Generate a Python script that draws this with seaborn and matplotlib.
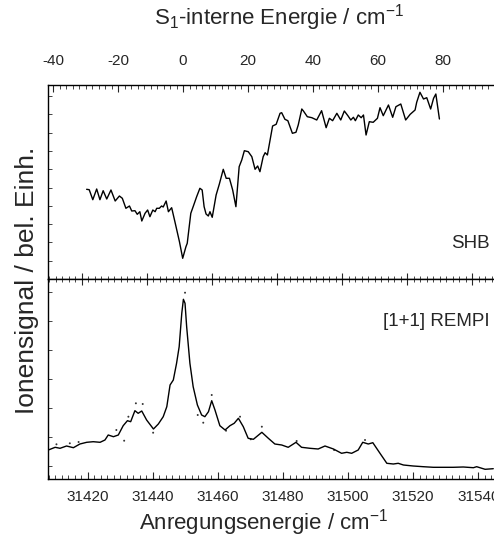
import numpy as np
import pandas as pd
import matplotlib
matplotlib.use("Agg")
import matplotlib.pyplot as plt
from matplotlib.ticker import MultipleLocator, FixedLocator, NullFormatter
import seaborn as sns

# --- DATA ---
# SHB spectrum: S1-internal energy (cm^-1) vs. ion signal (arb. units)
shb_energy = [-29.7, -28.9, -27.8, -26.6, -25.6, -24.6, -23.5, -22.2, -20.9, -19.6,
              -18.7, -17.6, -16.5, -15.8, -14.8, -14.1, -13.3, -12.7, -11.7, -10.9,
              -10.2, -9.3, -8.6, -8.1, -7.3, -6.6, -6.1, -5.2, -4.5, -3.5,
              -2.5, -1.1, -0.1, 0.9, 1.3, 2.4, 3.2, 4.2, 5.2, 5.9,
              6.5, 7.1, 7.8, 8.3, 9.0, 10.2, 11.2, 12.4, 13.3, 14.3,
              15.3, 16.3, 17.3, 18.1, 18.9, 20.1, 21.2, 22.2, 23.0, 23.7,
              24.7, 25.3, 26.0, 27.6, 28.7, 29.9, 30.4, 31.4, 32.3, 33.7,
              34.8, 35.5, 36.6, 37.1, 38.3, 39.7, 41.2, 42.7, 44.1, 45.1,
              46.1, 47.4, 48.6, 49.7, 50.8, 51.7, 52.5, 53.1, 54.0, 54.9,
              55.6, 56.4, 57.4, 58.6, 59.9, 60.7, 61.7, 63.3, 64.6, 65.6,
              67.1, 68.6, 70.0, 71.5, 72.0, 73.0, 74.1, 75.1, 76.3, 77.2,
              77.9, 79.0]
shb_signal = [89.7, 89.3, 79.3, 90.0, 79.3, 88.3, 80.0, 89.0, 78.0, 83.0,
              80.7, 70.7, 73.0, 68.0, 68.3, 64.7, 67.3, 58.0, 65.7, 69.0,
              62.3, 69.0, 67.3, 70.7, 70.7, 73.0, 72.0, 78.0, 67.3, 71.3,
              57.3, 37.3, 20.7, 32.3, 35.7, 65.7, 73.0, 82.3, 90.7, 89.0,
              72.3, 65.0, 63.0, 67.3, 61.7, 84.0, 95.0, 109.7, 100.7, 100.7,
              89.0, 72.3, 112.3, 119.0, 128.3, 127.3, 122.3, 109.7, 113.0, 107.3,
              122.3, 126.3, 124.0, 153.0, 154.7, 165.7, 166.3, 159.7, 158.3, 145.7,
              146.7, 154.0, 170.0, 168.0, 162.3, 161.3, 159.0, 168.3, 151.3, 160.7,
              158.3, 165.7, 159.0, 168.0, 163.3, 159.0, 161.7, 158.3, 164.0, 161.3,
              164.0, 144.0, 157.3, 156.7, 160.7, 171.3, 163.3, 174.0, 161.7, 172.3,
              175.0, 159.0, 164.7, 169.0, 176.7, 186.7, 180.0, 181.3, 170.0, 180.7,
              185.0, 160.0]

# [1+1] REMPI spectrum: excitation energy (cm^-1) vs. ion signal (smoothed)
rempi_energy = [31407.9, 31410.0, 31411.5, 31413.5, 31415.6, 31417.6, 31419.7, 31421.7,
                31423.8, 31425.3, 31426.3, 31427.9, 31429.4, 31430.9, 31432.2, 31433.2,
                31434.5, 31435.5, 31436.6, 31438.1, 31440.2, 31441.7, 31443.2, 31444.3,
                31445.3, 31446.3, 31447.3, 31448.1, 31448.9, 31449.4, 31449.9, 31450.4,
                31451.4, 31452.4, 31453.7, 31455.0, 31456.0, 31457.1, 31458.1, 31459.1,
                31460.6, 31462.2, 31463.7, 31465.0, 31466.3, 31467.8, 31469.3, 31470.9,
                31473.5, 31475.5, 31477.5, 31479.6, 31481.6, 31484.0, 31485.7, 31488.3,
                31490.8, 31492.9, 31495.5, 31498.0, 31499.6, 31501.1, 31503.1, 31504.5,
                31506.2, 31507.6, 31509.8, 31511.9, 31513.9, 31515.4, 31517.0, 31520.0,
                31523.1, 31526.2, 31529.2, 31532.3, 31535.4, 31538.5, 31539.5, 31542.1,
                31544.6]
rempi_signal = [29.0, 31.7, 30.7, 33.0, 31.3, 35.0, 36.7, 37.3,
                36.7, 39.0, 44.0, 42.3, 44.0, 53.3, 58.3, 57.3,
                68.3, 65.7, 68.0, 59.0, 50.0, 55.0, 62.3, 72.3,
                94.0, 99.0, 115.7, 132.3, 165.7, 179.7, 175.7, 152.3,
                115.7, 92.3, 74.0, 64.0, 62.3, 67.3, 78.3, 69.0,
                53.3, 49.0, 53.3, 55.7, 60.7, 52.3, 40.7, 39.7,
                46.7, 40.7, 35.0, 34.0, 31.7, 36.7, 31.7, 30.7,
                30.0, 33.0, 30.0, 25.7, 26.7, 25.7, 29.0, 36.7,
                35.0, 36.3, 25.7, 15.7, 15.0, 15.7, 14.0, 13.0,
                12.3, 11.7, 11.7, 11.7, 12.0, 11.3, 12.3, 9.7,
                10.3]

# raw REMPI points scattered around the smoothed trace
raw_energy = [31449.9, 31434.8, 31436.9, 31432.5, 31458.1, 31455.5, 31466.8, 31473.5,
              31428.8, 31431.2, 31440.1, 31410.4, 31414.5, 31417.2, 31484.2, 31495.7,
              31505.2, 31453.8, 31462.5, 31470.1]
raw_signal = [186.3, 75.7, 75.0, 62.3, 84.0, 56.3, 62.3, 52.3,
              49.0, 38.3, 46.3, 34.7, 35.7, 37.0, 38.0, 29.0,
              39.0, 64.0, 48.3, 39.7]

shb_df = pd.DataFrame({"E": shb_energy, "I": shb_signal})
rempi_df = pd.DataFrame({"E": rempi_energy, "I": rempi_signal})
raw_df = pd.DataFrame({"E": raw_energy, "I": raw_signal})

# --- STYLE ---
sns.set_style("white")
plt.rcParams["font.family"] = ["Liberation Sans", "DejaVu Sans"]
plt.rcParams["mathtext.fontset"] = "custom"
plt.rcParams["mathtext.rm"] = "Liberation Sans"
plt.rcParams["mathtext.it"] = "Liberation Sans:italic"
plt.rcParams["axes.unicode_minus"] = False
plt.rcParams["axes.linewidth"] = 1.0
plt.rcParams["axes.edgecolor"] = "black"

W, H = 494, 543
fig = plt.figure(figsize=(W / 100, H / 100), dpi=100)

left = 48 / W
width = 456 / W
ax1 = fig.add_axes([left, 1 - 279 / H, width, 194 / H])
ax2 = fig.add_axes([left, 1 - 479 / H, width, 200 / H])

# top panel: SHB
sns.lineplot(ax=ax1, data=shb_df, x="E", y="I", color="black", lw=1.0, sort=False)
ax1.set_xlim(-41.6, 98.9)
ax1.set_ylim(0, 194)
ax1.xaxis.tick_top()
ax1.xaxis.set_label_position("top")
ax1.xaxis.set_major_locator(MultipleLocator(20))
ax1.xaxis.set_minor_locator(MultipleLocator(2))
ax1.tick_params(axis="x", which="major", direction="in", length=5, width=0.8,
                labelsize=11, pad=12, top=True, bottom=False)
ax1.tick_params(axis="x", which="minor", direction="in", length=3, width=0.6,
                top=True, bottom=False)
ax1.yaxis.set_major_locator(MultipleLocator(18.3))
ax1.yaxis.set_major_formatter(NullFormatter())
ax1.tick_params(axis="y", which="major", direction="in", length=3, width=0.6,
                left=True, right=False)
ax1.spines["right"].set_visible(False)
ax1.set_xlabel("")
ax1.set_ylabel("")
ax1.text(490 / W, 1 - 243 / H, "SHB", transform=fig.transFigure,
         ha="right", va="center", fontsize=13.5)

# middle line ticks (offset scale of the top panel's bottom spine)
sec = ax2.secondary_xaxis("top", functions=(lambda x: x + 1.8, lambda x: x - 1.8))
sec.xaxis.set_major_locator(MultipleLocator(20))
sec.xaxis.set_minor_locator(MultipleLocator(2))
sec.xaxis.set_major_formatter(NullFormatter())
sec.tick_params(axis="x", which="major", direction="inout", length=8, width=0.8)
sec.tick_params(axis="x", which="minor", direction="inout", length=5, width=0.6)
sec.spines["top"].set_visible(False)

# bottom panel: REMPI
sns.lineplot(ax=ax2, data=rempi_df, x="E", y="I", color="black", lw=1.0, sort=False)
sns.scatterplot(ax=ax2, data=raw_df, x="E", y="I", color="#333333", s=2,
                edgecolor="none", legend=False)
ax2.set_xlim(31407.8, 31547.9)
ax2.set_ylim(0, 200)
ax2.xaxis.set_major_locator(MultipleLocator(20))
ax2.xaxis.set_minor_locator(MultipleLocator(2))
ax2.tick_params(axis="x", which="major", direction="in", length=5, width=0.8,
                labelsize=11, pad=8, top=False, bottom=True)
ax2.tick_params(axis="x", which="minor", direction="in", length=3, width=0.6,
                top=False, bottom=True)
ax2.yaxis.set_major_locator(FixedLocator(np.arange(13, 200, 29)))
ax2.yaxis.set_major_formatter(NullFormatter())
ax2.tick_params(axis="y", which="major", direction="in", length=3, width=0.6,
                left=True, right=False)
ax2.set_xlabel("")
ax2.set_ylabel("")
ax2.text(490 / W, 1 - 321 / H, "[1+1] REMPI", transform=fig.transFigure,
         ha="right", va="center", fontsize=13.5)

# axis titles
fig.text(279 / W, 1 - 18 / H, r"S$_1$-interne Energie / cm$^{\mathregular{-1}}$",
         ha="center", va="center", fontsize=16)
fig.text(264 / W, 1 - 523 / H, r"Anregungsenergie / cm$^{\mathregular{-1}}$",
         ha="center", va="center", fontsize=16)
fig.text(27 / W, 1 - 280 / H, "Ionensignal / bel. Einh.", rotation=90,
         ha="center", va="center", fontsize=19)

fig.savefig("out.png", dpi=100)
